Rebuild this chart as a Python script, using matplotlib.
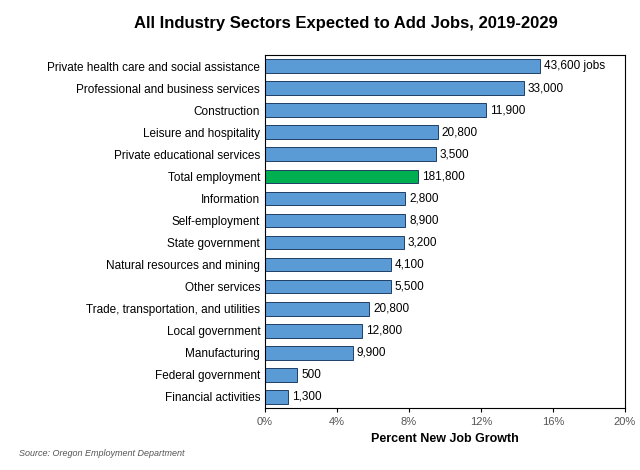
import matplotlib.pyplot as plt

sectors = ['Private health care and social assistance', 'Professional and business services',
           'Construction', 'Leisure and hospitality', 'Private educational services',
           'Total employment', 'Information', 'Self-employment', 'State government',
           'Natural resources and mining', 'Other services', 'Trade, transportation, and utilities',
           'Local government', 'Manufacturing', 'Federal government', 'Financial activities']
growth = [15.3, 14.4, 12.3, 9.6, 9.5, 8.5, 7.8, 7.8, 7.7, 7.0, 7.0, 5.8, 5.4, 4.9, 1.8, 1.3]
jobs = ['43,600 jobs', '33,000', '11,900', '20,800', '3,500', '181,800', '2,800', '8,900',
        '3,200', '4,100', '5,500', '20,800', '12,800', '9,900', '500', '1,300']

plt.rcParams['font.family'] = ['Liberation Sans', 'DejaVu Sans']
fig = plt.figure(figsize=(6.4, 4.7), dpi=100)
ax = fig.add_axes([265/640, 1 - 408/470, 360/640, 353/470])

y = list(range(len(sectors)))
colors = ['#00B050' if s == 'Total employment' else '#5B9BD5' for s in sectors]
ax.barh(y, growth, height=0.62, color=colors, edgecolor='#1F3F66', linewidth=0.7)
for yi, g, j in zip(y, growth, jobs):
    ax.text(g + 0.2, yi, j, va='center', fontsize=8.5)

ax.set_ylim(len(sectors) - 0.5, -0.5)
ax.set_xlim(0, 20)
ax.set_yticks(y)
ax.set_yticklabels(sectors, fontsize=8.5)
ax.set_xticks([0, 4, 8, 12, 16, 20])
ax.set_xticklabels(['0%', '4%', '8%', '12%', '16%', '20%'], fontsize=8, color='#555555')
ax.tick_params(axis='y', length=0)
ax.tick_params(axis='x', length=3)
ax.set_xlabel('Percent New Job Growth', fontsize=9, fontweight='bold')

fig.text(0.54, 0.94, 'All Industry Sectors Expected to Add Jobs, 2019-2029',
         ha='center', fontsize=12, fontweight='bold')
fig.text(0.03, 0.03, 'Source: Oregon Employment Department', fontsize=6.5,
         style='italic', color='#555555')

fig.savefig('out.png', dpi=100)
